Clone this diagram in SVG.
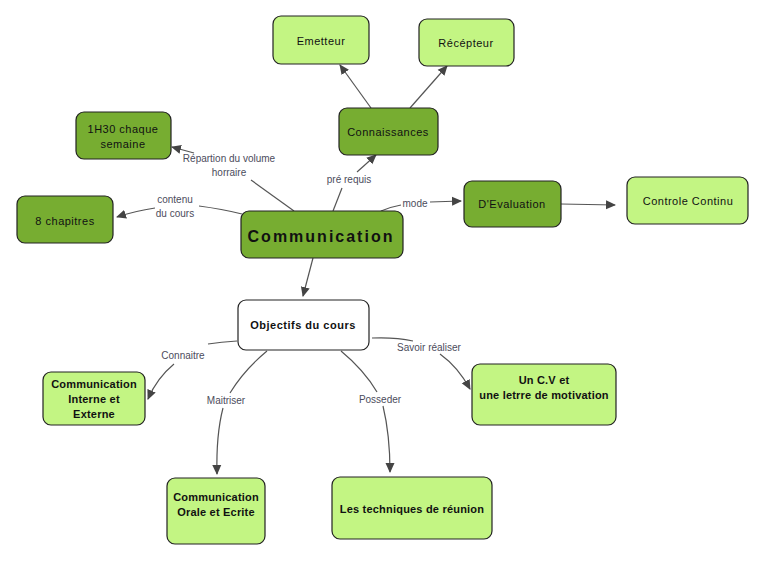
<svg xmlns="http://www.w3.org/2000/svg" width="765" height="562" viewBox="0 0 765 562">
<style>
.n rect{stroke:#222;stroke-width:1.2}
.d rect{fill:#77ad31}
.l rect{fill:#c3f583}
.w rect{fill:#fff}
.n text{font-family:"Liberation Sans",Arial,sans-serif;font-size:11px;fill:#111;text-anchor:middle;letter-spacing:0.5px}
.b text{font-weight:bold}
.e path{fill:none;stroke:#555;stroke-width:1.2}
.lb{font-family:"Liberation Sans",Arial,sans-serif;font-size:10px;fill:#4c4c5c;text-anchor:middle}
</style>
<defs>
<marker id="a" viewBox="0 0 10 10" refX="9" refY="5" markerWidth="10" markerHeight="10" markerUnits="userSpaceOnUse" orient="auto">
<path d="M0,0.5 L10,5 L0,9.5 Z" fill="#444"/>
</marker>
</defs>
<g id="connectors" class="e">
<path d="M371,108 L340,65" marker-end="url(#a)"/>
<path d="M410,108 L447,66" marker-end="url(#a)"/>
<path d="M333,211 L342,188"/>
<path d="M357,172 L376,155" marker-end="url(#a)"/>
<path d="M294,211 L251,180"/>
<path d="M194,153 L172,147" marker-end="url(#a)"/>
<path d="M242,214 Q222,209 199,206"/>
<path d="M155,208 Q135,211 117,217" marker-end="url(#a)"/>
<path d="M381,211 Q390,207 401,205"/>
<path d="M430,202 L461,201" marker-end="url(#a)"/>
<path d="M561,204 L615,205" marker-end="url(#a)"/>
<path d="M313,258 L303,296" marker-end="url(#a)"/>
<path d="M237,341 Q221,342 208,344"/>
<path d="M174,364 Q157,378 148,399" marker-end="url(#a)"/>
<path d="M267,351 Q244,370 230,393"/>
<path d="M223,408 Q216,435 217,474" marker-end="url(#a)"/>
<path d="M341,351 Q364,370 377,392"/>
<path d="M383,406 Q390,435 390,472" marker-end="url(#a)"/>
<path d="M372,338 Q395,337 413,341"/>
<path d="M440,354 Q458,367 470,389" marker-end="url(#a)"/>
<text class="lb" x="349" y="183">pré requis</text>
<text class="lb" x="229" y="162">Répartion du volume</text>
<text class="lb" x="229" y="176">horraire</text>
<text class="lb" x="175" y="203">contenu</text>
<text class="lb" x="175" y="217">du cours</text>
<text class="lb" x="415" y="207">mode</text>
<text class="lb" x="183" y="359">Connaitre</text>
<text class="lb" x="226" y="404">Maitriser</text>
<text class="lb" x="380" y="403">Posseder</text>
<text class="lb" x="429" y="351">Savoir réaliser</text>
</g>
<g id="emetteur" class="n l"><rect x="273" y="16" width="96" height="48" rx="8"/><text x="321" y="45">Emetteur</text></g>
<g id="recepteur" class="n l"><rect x="419" y="19" width="95" height="47" rx="8"/><text x="466" y="47">Récépteur</text></g>
<g id="connaissances" class="n d"><rect x="339" y="108" width="99" height="47" rx="8"/><text x="388" y="136">Connaissances</text></g>
<g id="volume" class="n d"><rect x="76" y="112" width="95" height="47" rx="8"/><text x="123" y="133">1H30 chaque</text><text x="123" y="148">semaine</text></g>
<g id="chapitres" class="n d"><rect x="17" y="196" width="96" height="47" rx="8"/><text x="65" y="225">8 chapitres</text></g>
<g id="communication" class="n d"><rect x="241" y="211" width="162" height="47" rx="8"/><text x="321" y="242" style="font-size:16px;font-weight:bold;letter-spacing:2px">Communication</text></g>
<g id="evaluation" class="n d"><rect x="464" y="181" width="97" height="46" rx="8"/><text x="512" y="208">D'Evaluation</text></g>
<g id="controle" class="n l"><rect x="627" y="177" width="121" height="47" rx="8"/><text x="688" y="205">Controle Continu</text></g>
<g id="objectifs" class="n w b"><rect x="238" y="300" width="131" height="50" rx="8"/><text x="303" y="329">Objectifs du cours</text></g>
<g id="interne" class="n l b"><rect x="43" y="372" width="102" height="53" rx="8"/><text x="94" y="388" style="letter-spacing:0.2px">Communication</text><text x="94" y="403" style="letter-spacing:0.2px">Interne et</text><text x="94" y="418" style="letter-spacing:0.2px">Externe</text></g>
<g id="orale" class="n l b"><rect x="167" y="478" width="98" height="66" rx="8"/><text x="216" y="501" style="letter-spacing:0.2px">Communication</text><text x="216" y="516" style="letter-spacing:0.2px">Orale et Ecrite</text></g>
<g id="techniques" class="n l b"><rect x="332" y="477" width="160" height="62" rx="8"/><text x="412" y="513" style="letter-spacing:0.2px">Les techniques de réunion</text></g>
<g id="cv" class="n l b"><rect x="472" y="364" width="144" height="61" rx="8"/><text x="544" y="384" style="letter-spacing:0.2px">Un C.V et</text><text x="544" y="399" style="letter-spacing:0.2px">une letrre de motivation</text></g>
</svg>
